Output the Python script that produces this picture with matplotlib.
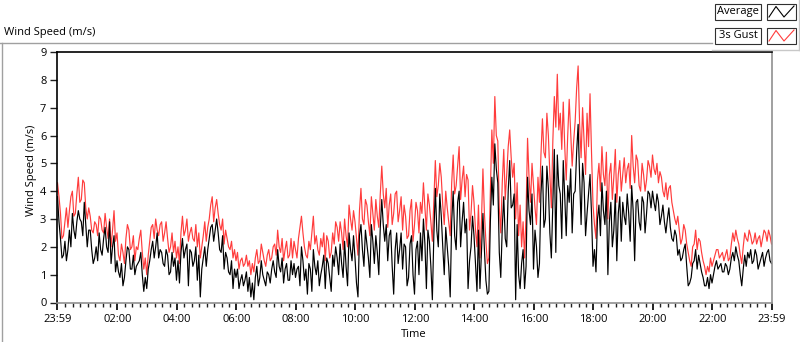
import numpy as np
import matplotlib
matplotlib.use("Agg")
import matplotlib.pyplot as plt
from matplotlib.patches import Rectangle
from matplotlib.lines import Line2D

plt.rcParams['font.family'] = ['Open Sans', 'DejaVu Sans']

# ---- data (3-minute samples starting at 23:59, one row per hour) ----
gust = [
    4.3, 3.8, 3.2, 2.3, 2.4, 2.9, 3.4, 2.7, 3.3, 3.8, 4.0, 3.1, 3.2, 3.9, 4.5, 3.6, 3.7, 4.4, 4.3, 3.4,
    3.0, 3.4, 3.1, 2.6, 2.5, 2.9, 2.8, 2.4, 3.1, 3.0, 2.6, 2.5, 3.2, 2.7, 2.3, 3.0, 2.0, 2.6, 3.3, 2.2,
    2.5, 1.7, 1.5, 2.1, 1.8, 1.4, 2.3, 2.8, 2.6, 1.9, 2.0, 2.4, 1.5, 2.0, 1.9, 2.3, 2.6, 1.8, 1.2, 1.6,
    1.0, 1.7, 2.2, 2.7, 2.8, 2.3, 3.0, 2.6, 2.4, 2.8, 2.9, 2.2, 2.5, 2.9, 2.3, 1.8, 2.0, 2.5, 1.8, 2.2,
    1.6, 2.0, 1.4, 2.5, 3.1, 2.4, 2.6, 3.0, 2.2, 2.5, 2.7, 2.3, 2.2, 2.8, 2.0, 2.5, 1.6, 2.0, 2.4, 2.9,
    2.2, 2.7, 3.0, 3.5, 3.8, 2.9, 3.4, 3.7, 3.2, 2.8, 2.6, 3.0, 2.1, 2.6, 2.3, 2.0, 1.9, 2.2, 1.6, 1.9,
    1.5, 1.8, 1.2, 1.5, 1.6, 1.3, 1.4, 1.7, 1.3, 1.5, 1.0, 1.4, 1.1, 1.6, 1.9, 1.4, 1.5, 2.1, 1.8, 1.5,
    1.3, 1.7, 1.9, 1.5, 1.6, 2.0, 2.1, 1.7, 2.6, 2.0, 1.8, 2.3, 1.5, 1.9, 2.2, 1.6, 1.7, 2.3, 1.6, 2.2,
    1.9, 1.6, 2.3, 2.7, 3.1, 2.5, 2.0, 1.7, 1.6, 2.2, 1.9, 2.5, 3.1, 2.1, 2.4, 1.9, 1.7, 2.3, 2.0, 2.5,
    1.5, 2.4, 2.2, 1.6, 1.8, 2.5, 2.1, 2.9, 2.7, 2.2, 2.9, 2.5, 1.9, 3.0, 2.4, 2.0, 3.5, 3.0, 2.6, 3.3,
    2.9, 2.3, 1.7, 3.3, 4.1, 3.0, 2.8, 3.7, 3.5, 2.9, 2.4, 3.8, 3.2, 2.6, 3.7, 3.1, 2.7, 3.9, 4.9, 3.9,
    3.4, 4.1, 2.7, 3.5, 3.9, 2.8, 3.2, 3.9, 4.0, 2.9, 3.3, 3.8, 2.6, 3.5, 3.1, 2.3, 2.4, 3.3, 3.7, 2.2,
    2.8, 3.6, 3.3, 2.5, 3.6, 3.2, 4.3, 3.4, 2.6, 3.9, 3.5, 2.9, 2.2, 3.6, 5.1, 3.8, 4.2, 5.0, 4.5, 3.5,
    2.8, 4.0, 3.4, 2.9, 2.4, 4.3, 5.3, 3.9, 4.2, 4.9, 5.6, 3.7, 4.4, 4.9, 3.8, 4.6, 4.4, 2.6, 3.2, 4.2,
    3.6, 2.6, 2.0, 3.5, 1.6, 2.9, 4.8, 3.2, 2.2, 1.4, 1.6, 4.0, 6.2, 5.0, 7.4, 6.0, 5.8, 3.4, 2.5, 4.3,
    5.5, 3.7, 4.6, 5.6, 6.2, 5.2, 4.5, 5.0, 3.0, 4.3, 2.4, 3.5, 2.0, 2.9, 1.6, 3.2, 5.9, 4.5, 3.6, 5.0,
    4.2, 3.4, 2.8, 4.5, 3.6, 5.3, 6.6, 5.4, 5.2, 6.8, 6.0, 4.6, 3.4, 5.8, 7.4, 6.3, 8.2, 6.2, 6.8, 5.5,
    7.2, 5.6, 4.4, 6.0, 7.3, 6.1, 4.9, 5.8, 6.5, 7.7, 8.5, 6.4, 5.2, 7.0, 5.8, 4.6, 6.8, 5.6, 7.5, 5.4,
    3.5, 2.8, 2.3, 4.4, 5.0, 4.0, 5.6, 4.6, 4.2, 5.4, 3.0, 4.6, 5.0, 3.7, 4.5, 5.5, 3.6, 4.6, 5.1, 4.0,
    4.6, 5.2, 4.3, 4.8, 5.0, 4.1, 6.0, 4.9, 4.3, 5.3, 5.1, 4.2, 4.0, 5.0, 4.6, 4.0, 4.4, 5.1, 4.9, 4.5,
    5.3, 4.8, 4.6, 5.0, 4.3, 4.7, 4.5, 4.0, 3.8, 4.3, 3.7, 4.1, 4.2, 3.6, 3.3, 3.0, 2.8, 3.1, 2.6, 2.1,
    2.3, 2.8, 2.6, 2.1, 1.8, 1.5, 1.3, 2.0, 2.1, 2.6, 1.9, 2.3, 2.2, 1.8, 1.5, 1.3, 1.0, 1.3, 1.1, 1.6,
    1.3, 1.5, 1.7, 1.9, 1.9, 1.6, 1.7, 1.8, 1.5, 1.7, 1.9, 1.5, 1.6, 2.1, 2.5, 2.2, 2.6, 2.3, 2.1, 1.7,
    1.4, 2.0, 2.5, 2.3, 2.2, 2.6, 2.4, 2.1, 2.2, 2.5, 2.1, 2.3, 2.4, 2.0, 2.3, 2.6, 2.5, 2.2, 2.6, 2.4,
    2.1,
]
average = [
    3.8, 2.9, 2.3, 1.6, 1.7, 2.2, 1.5, 1.9, 2.6, 2.0, 3.2, 2.6, 2.3, 2.9, 3.3, 3.0, 2.9, 2.4, 3.6, 2.8,
    2.0, 2.6, 2.6, 1.9, 1.4, 1.6, 2.0, 1.5, 2.5, 1.9, 1.7, 2.3, 2.7, 2.0, 1.8, 2.9, 1.4, 2.0, 2.4, 1.1,
    1.5, 1.1, 0.9, 1.4, 0.6, 0.9, 1.5, 2.0, 1.9, 1.2, 1.2, 1.7, 1.0, 1.3, 1.4, 1.5, 1.8, 1.0, 0.4, 0.9,
    0.5, 1.2, 1.5, 1.9, 2.2, 1.6, 2.0, 2.5, 1.6, 1.9, 1.8, 1.4, 1.3, 1.9, 1.7, 1.0, 1.1, 1.8, 1.3, 1.6,
    0.8, 1.5, 0.7, 1.8, 2.3, 1.6, 1.9, 2.1, 0.6, 1.9, 1.8, 1.3, 1.5, 2.0, 0.8, 1.7, 0.2, 1.2, 1.6, 2.0,
    1.3, 1.9, 2.3, 2.7, 2.8, 2.2, 2.6, 3.0, 2.5, 1.9, 1.8, 2.4, 1.2, 1.8, 1.6, 1.1, 1.0, 1.5, 0.5, 1.2,
    0.9, 1.2, 0.5, 0.8, 1.0, 0.6, 0.8, 1.1, 0.4, 0.9, 0.2, 0.7, 0.1, 0.9, 1.3, 0.6, 0.9, 1.5, 1.0, 0.8,
    0.6, 1.1, 1.0, 0.7, 1.2, 1.5, 1.1, 0.9, 1.9, 1.3, 1.1, 1.6, 0.7, 1.2, 1.4, 0.8, 0.8, 1.5, 1.0, 1.4,
    0.9, 1.2, 1.3, 0.6, 2.0, 1.5, 0.8, 1.2, 0.3, 1.4, 1.2, 0.4, 1.9, 1.3, 1.0, 1.5, 0.6, 1.0, 1.3, 1.7,
    0.5, 1.6, 1.4, 0.9, 0.4, 1.7, 1.3, 2.0, 1.6, 1.0, 2.1, 1.4, 0.9, 2.2, 1.3, 0.6, 2.5, 1.9, 1.5, 2.4,
    1.6, 0.7, 0.2, 2.4, 2.8, 1.9, 1.3, 2.6, 2.1, 1.6, 0.9, 2.8, 2.2, 1.4, 2.4, 1.8, 1.0, 2.7, 3.7, 2.8,
    2.2, 2.8, 1.5, 2.4, 2.6, 1.3, 0.3, 1.9, 2.5, 1.4, 1.9, 2.5, 1.2, 2.1, 2.0, 0.6, 0.9, 2.1, 2.4, 1.0,
    0.3, 1.9, 2.2, 1.0, 2.5, 1.5, 3.0, 2.1, 0.5, 2.6, 2.2, 1.3, 0.1, 2.4, 4.1, 2.6, 2.0, 3.9, 3.1, 2.0,
    1.0, 2.7, 2.0, 1.3, 0.2, 2.9, 4.0, 2.4, 1.9, 3.6, 4.0, 2.0, 2.9, 3.6, 2.5, 3.0, 0.5, 1.5, 2.0, 3.1,
    2.4, 1.4, 0.4, 2.6, 0.5, 1.8, 3.2, 1.9, 0.8, 0.3, 0.4, 2.9, 4.5, 3.5, 5.7, 4.8, 4.3, 1.8, 0.9, 2.7,
    3.8, 2.3, 2.0, 4.0, 5.1, 3.4, 3.5, 3.9, 0.1, 2.8, 1.0, 0.5, 1.4, 1.9, 0.5, 1.3, 4.5, 3.3, 2.8, 3.9,
    1.2, 2.6, 2.0, 0.9, 1.4, 3.9, 4.9, 2.7, 3.0, 4.9, 4.1, 2.5, 1.6, 3.6, 5.5, 1.8, 5.3, 4.2, 3.9, 2.3,
    5.1, 3.8, 2.4, 4.2, 3.6, 4.8, 2.5, 3.9, 4.0, 5.4, 6.4, 4.5, 2.8, 5.0, 4.3, 2.4, 3.2, 3.9, 4.6, 3.2,
    1.3, 1.9, 1.1, 3.0, 3.5, 2.4, 4.3, 3.3, 2.8, 4.0, 1.0, 2.9, 3.6, 2.0, 2.6, 3.9, 1.5, 3.2, 3.8, 2.2,
    3.6, 3.1, 2.8, 3.9, 3.2, 2.2, 4.2, 3.3, 1.5, 3.6, 3.7, 2.9, 2.6, 3.8, 3.6, 2.5, 3.2, 4.0, 3.9, 3.4,
    4.0, 3.6, 3.3, 3.9, 3.6, 2.8, 3.1, 3.5, 2.9, 2.5, 3.0, 3.4, 2.7, 2.3, 2.2, 2.6, 2.4, 1.7, 1.9, 1.5,
    1.6, 1.9, 2.1, 1.3, 0.6, 0.7, 0.9, 1.4, 1.5, 1.9, 1.2, 1.7, 1.4, 1.1, 0.9, 0.6, 0.6, 0.9, 0.5, 1.0,
    0.7, 1.0, 1.3, 1.5, 1.2, 1.3, 1.4, 1.1, 1.1, 1.4, 1.3, 1.0, 1.2, 1.6, 1.8, 1.5, 2.0, 1.7, 1.5, 1.0,
    0.6, 1.2, 1.7, 1.3, 1.8, 1.6, 1.9, 1.4, 1.5, 1.9, 1.7, 1.2, 1.4, 1.6, 1.8, 1.3, 1.6, 1.8, 1.9, 1.5,
    1.4,
]
minutes = np.arange(len(gust)) * 3  # minutes since 23:59

tick_minutes = [0, 121, 241, 361, 481, 601, 721, 841, 961, 1081, 1201, 1321, 1440]
tick_labels = ["23:59", "02:00", "04:00", "06:00", "08:00", "10:00", "12:00",
               "14:00", "16:00", "18:00", "20:00", "22:00", "23:59"]
y_ticks = list(range(0, 10))
series_names = ["Average", "3s Gust"]
series_colors = ["black", "#ff3c3c"]

W, H = 800, 342
fig = plt.figure(figsize=(W / 100, H / 100), dpi=100)
fig.patch.set_facecolor("white")

def fx(x):
    return x / W

def fy(y):
    return 1 - y / H

FS = 8

ax = fig.add_axes([fx(57.5), fy(302.5), fx(771.5) - fx(57.5), fy(52) - fy(302.5)])
ax.plot(minutes, gust, color=series_colors[1], lw=0.85)
ax.plot(minutes, average, color=series_colors[0], lw=0.85)

ax.set_xlim(0, 1440)
ax.set_ylim(0, 9)
ax.set_yticks(y_ticks)
ax.set_xticks(tick_minutes)
ax.set_xticklabels(tick_labels)
ax.set_xticks(np.arange(16, 1440, 15), minor=True)
ax.tick_params(axis="x", which="major", length=5, width=1.4, pad=3, labelsize=FS, color="#202020")
ax.tick_params(axis="x", which="minor", length=3, width=1.0, color="#202020")
ax.tick_params(axis="y", which="major", length=5, width=1.0, pad=3, labelsize=FS, color="#202020")
for s in ["left", "top"]:
    ax.spines[s].set_color("black")
    ax.spines[s].set_linewidth(1.2)
for s in ["right", "bottom"]:
    ax.spines[s].set_color("#909090")
    ax.spines[s].set_linewidth(1.2)

fig.text(fx(31.5), fy(170), "Wind Speed (m/s)", rotation=90, ha="center", va="center", fontsize=FS)
fig.text(fx(413.5), fy(334.5), "Time", ha="center", va="center", fontsize=FS)
fig.text(fx(4), fy(32), "Wind Speed (m/s)", ha="left", va="center", fontsize=FS)

grey = "#a0a0a0"
fig.add_artist(Line2D([fx(0), fx(712)], [fy(42.5), fy(42.5)], color=grey, lw=1))
fig.add_artist(Line2D([fx(1.5), fx(1.5)], [fy(42.5), fy(342)], color=grey, lw=1))
fig.add_artist(Line2D([fx(712), fx(799)], [fy(49.5), fy(49.5)], color="#c8c8c8", lw=1))
fig.add_artist(Line2D([fx(799), fx(799)], [fy(0), fy(49.5)], color="#c8c8c8", lw=1))

box_tops = [3.5, 27.5]
for name, col, top in zip(series_names, series_colors, box_tops):
    fig.add_artist(Rectangle((fx(715), fy(top + 16)), fx(46), 16 / H, facecolor="white",
                             edgecolor="#303030", lw=0.8))
    fig.text(fx(738), fy(top + 8), name, ha="center", va="center", fontsize=FS)
    fig.add_artist(Rectangle((fx(767), fy(top + 16)), fx(29), 16 / H, facecolor="white",
                             edgecolor="#303030", lw=0.8))
    fig.add_artist(Line2D([fx(769), fx(776), fx(784), fx(794)],
                          [fy(top + 13.5), fy(top + 3), fy(top + 13.5), fy(top + 2.5)],
                          color=col, lw=0.8))

fig.savefig("out.png", dpi=100, facecolor="white")
